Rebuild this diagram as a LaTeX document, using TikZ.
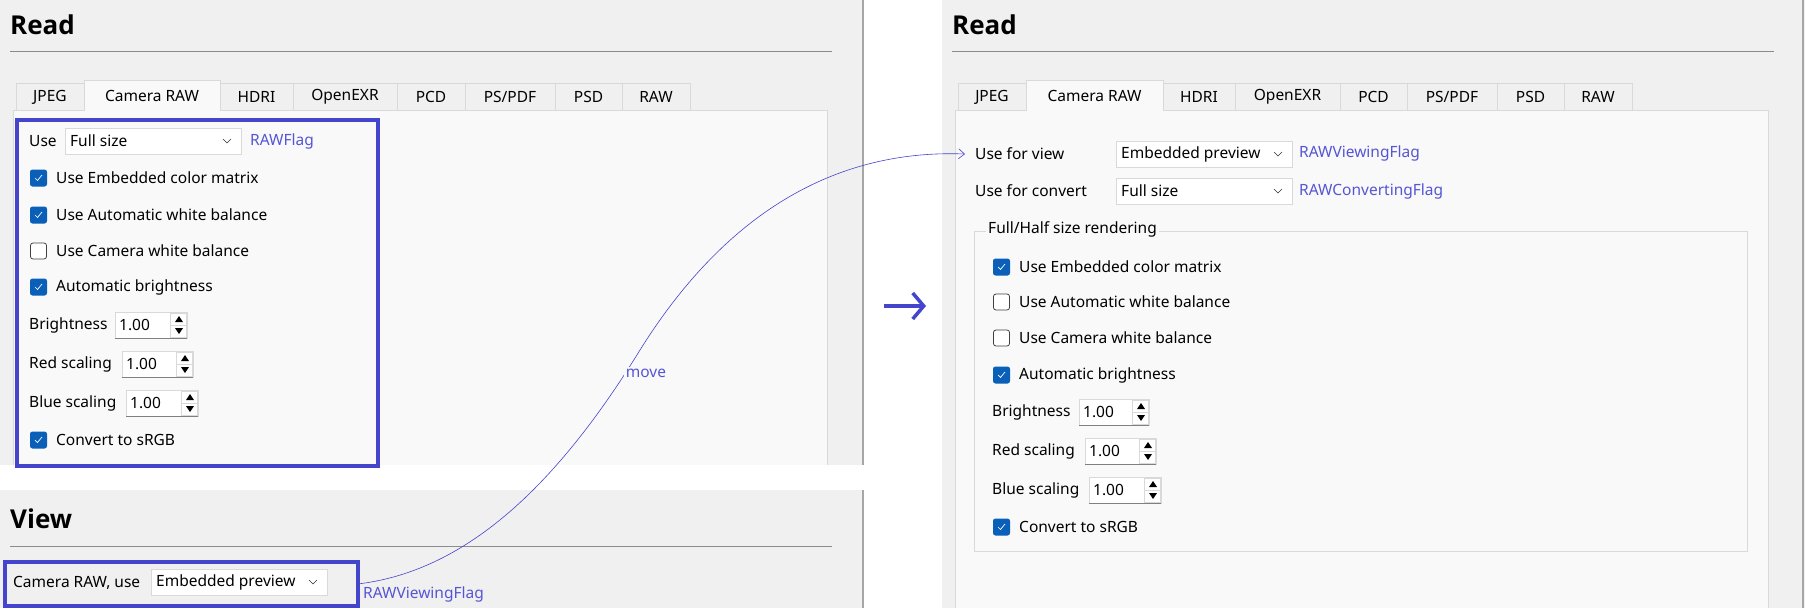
\documentclass[tikz,border=0pt]{standalone}
\usepackage{fontspec}
\setmainfont{Noto Sans}
\newfontfamily\ttlfont{Open Sans}
\usetikzlibrary{arrows.meta}
\definecolor{bgg}{HTML}{F0F0F0}
\definecolor{pane}{HTML}{F9F9F9}
\definecolor{bord}{HTML}{D9D9D9}
\definecolor{hl}{HTML}{4444CC}
\definecolor{lbl}{HTML}{5555D5}
\definecolor{chk}{HTML}{0A5FB8}
\tikzset{
 txt/.style={inner sep=0pt,anchor=west,font=\fontsize{15.5}{17}\selectfont},
 title/.style={inner sep=0pt,anchor=west,font=\ttlfont\fontsize{26}{30}\selectfont\bfseries},
 flag/.style={txt,text=lbl},
 tab/.style={draw=bord,fill=bgg},
 stab/.style={draw=bord,fill=pane},
 field/.style={draw=bord,fill=white},
 hlbox/.style={draw=hl,line width=3.5pt},
}
\newcommand\cbx[4]{% name, x, y, checked(1/0)
 \ifnum#4=1
  \node[fill=chk,rounded corners=2.5pt,minimum size=17pt,inner sep=0pt] (#1) at (#2,#3) {};
  \draw[white,line width=0.7pt] (#2-3.5,#3) -- (#2-1,#3+2.5) -- (#2+3.5,#3-3);
 \else
  \node[draw=black!75,fill=white,rounded corners=2.5pt,minimum size=16pt,inner sep=0pt,line width=0.8pt] (#1) at (#2,#3) {};
 \fi}
\newcommand\spn[5]{% name, x1, x2, ycenter, text
 \node[field,minimum width=#3-#2 pt,minimum height=26pt,inner sep=0pt,anchor=west] (#1) at (#2,#4) {};
 \draw[black!50] (#2,#4+13) -- (#3,#4+13);
 \node[txt] at (#2+4,#4) {#5};
 \fill (#3-12,#4-3) -- (#3-8,#4-9) -- (#3-4,#4-3) -- cycle;
 \fill (#3-12,#4+3) -- (#3-8,#4+9) -- (#3-4,#4+3) -- cycle;
 \draw[bord] (#3-17,#4-12) rectangle (#3-1,#4+12);
 \draw[bord] (#3-17,#4) -- (#3-1,#4);}
\newcommand\cmb[5]{% name, x1, x2, ycenter, text
 \node[field,minimum width=#3-#2 pt,minimum height=26pt,inner sep=0pt,anchor=west] (#1) at (#2,#4) {};
 \node[txt] at (#2+5,#4) {#5};
 \draw[black!80,line width=0.6pt] (#3-18,#4-2) -- (#3-14,#4+2) -- (#3-10,#4-2);}
\begin{document}
\begin{tikzpicture}[x=1pt,y=-1pt]
\useasboundingbox (0,0) rectangle (1805,608);
\fill[white] (0,0) rectangle (1805,608);
% ---------- left panel ----------
\fill[bgg] (0,0) rectangle (863,465);
\fill[bgg] (0,490) rectangle (863,608);
\draw[black!35,line width=1.2pt] (863,0) -- (863,465);
\draw[black!35,line width=1.2pt] (863,490) -- (863,608);
\node[title] (readL) at (10,25) {Read};
\draw[black!45] (10,51) -- (832,51);
\fill[pane] (13,110) rectangle (827,465);
\draw[bord] (13,465) -- (13,110) -- (827,110) -- (827,465);
\foreach \a/\b/\t [count=\i] in {16/84/JPEG,220/293/HDRI,293/397/OpenEXR,397/465/PCD,465/555/{PS/PDF},555/622/PSD,622/690/RAW}{
 \draw[tab] (\a,110) rectangle (\b,83);
 \node[txt,anchor=center] (tl\i) at ({(\a+\b)/2},97) {\t};}
\draw[stab] (84,111) -- (84,80) -- (220,80) -- (220,111);
\node[txt,anchor=center] (tlc) at (152,96) {Camera RAW};
\node[txt] (useL) at (29,141) {Use};
\cmb{cmbL}{65}{241}{141}{Full size}
\node[flag] (rawflag) at (250,141) {RAWFlag};
\cbx{c1}{38.5}{178}{1}\node[txt] at (56,178) {Use Embedded color matrix};
\cbx{c2}{38.5}{215}{1}\node[txt] at (56,215) {Use Automatic white balance};
\cbx{c3}{38.5}{251}{0}\node[txt] at (56,251) {Use Camera white balance};
\cbx{c4}{38.5}{287}{1}\node[txt] at (56,287) {Automatic brightness};
\node[txt] (bL) at (29,325) {Brightness};\spn{sb1}{115}{187}{325}{1.00}
\node[txt] (rL) at (29,364) {Red scaling};\spn{sr1}{122}{193}{364}{1.00}
\node[txt] (blL) at (29,403) {Blue scaling};\spn{sbl1}{126}{198}{403}{1.00}
\cbx{c5}{38.5}{440}{1}\node[txt] at (56,440) {Convert to sRGB};
\node[hlbox,minimum width=361pt,minimum height=346pt,inner sep=0pt,anchor=north west] (boxA) at (15,118) {};
% view
\node[title] (viewL) at (10,519) {View};
\draw[black!45] (10,546) -- (832,546);
\node[txt] (camuse) at (13,583) {Camera RAW, use};
\cmb{cmbV}{151}{327}{582}{Embedded preview}
\node[hlbox,minimum width=353pt,minimum height=44pt,inner sep=0pt,anchor=north west] (boxB) at (3,560) {};
\node[flag] (rvf) at (363,594) {RAWViewingFlag};
% ---------- right panel ----------
\fill[bgg] (942,0) rectangle (1805,608);
\draw[black!35,line width=1.2pt] (1803,0) -- (1803,608);
\node[title] (readR) at (952,25) {Read};
\draw[black!45] (952,51) -- (1774,51);
\fill[pane] (955,110) rectangle (1768,608);
\draw[bord] (955,608) -- (955,110) -- (1768,110) -- (1768,608);
\foreach \a/\b/\t [count=\i] in {958/1026/JPEG,1163/1235/HDRI,1235/1340/OpenEXR,1340/1407/PCD,1407/1497/{PS/PDF},1497/1564/PSD,1564/1632/RAW}{
 \draw[tab] (\a,110) rectangle (\b,83);
 \node[txt,anchor=center] (tr\i) at ({(\a+\b)/2},97) {\t};}
\draw[stab] (1026,111) -- (1026,80) -- (1163,80) -- (1163,111);
\node[txt,anchor=center] (trc) at (1094.5,96) {Camera RAW};
\node[txt] (ufv) at (975,154) {Use for view};
\cmb{cmbR1}{1116}{1292}{154}{Embedded preview}
\node[flag] (rvf2) at (1299,153) {RAWViewingFlag};
\node[txt] (ufc) at (975,191) {Use for convert};
\cmb{cmbR2}{1116}{1292}{191}{Full size}
\node[flag] (rcf) at (1299,191) {RAWConvertingFlag};
\draw[bord,line width=1pt] (974,231) rectangle (1747,551);
\node[txt,fill=pane,inner xsep=2pt] (grp) at (986,229) {Full/Half size rendering};
\cbx{d1}{1001.5}{267}{1}\node[txt] at (1019,267) {Use Embedded color matrix};
\cbx{d2}{1001.5}{302}{0}\node[txt] at (1019,302) {Use Automatic white balance};
\cbx{d3}{1001.5}{338}{0}\node[txt] at (1019,338) {Use Camera white balance};
\cbx{d4}{1001.5}{375}{1}\node[txt] at (1019,375) {Automatic brightness};
\node[txt] (bR) at (992,412) {Brightness};\spn{sb2}{1079}{1149}{412}{1.00}
\node[txt] (rR) at (992,451) {Red scaling};\spn{sr2}{1085}{1156}{451}{1.00}
\node[txt] (blR) at (992,490) {Blue scaling};\spn{sbl2}{1089}{1161}{490}{1.00}
\cbx{d5}{1001.5}{527}{1}\node[txt] at (1019,527) {Convert to sRGB};
% ---------- connectors ----------
\coordinate (tip) at (965,154);
\draw[hl,line width=0.6pt,-{Straight Barb[length=6pt,width=10pt]}] (boxB.east) .. controls (470,570) and (560,480) .. (640,350) .. controls (740,190) and (860,150) .. (tip);
\node[flag,anchor=center,fill=pane,inner sep=2pt] (mv) at (646,373) {move};
\coordinate (a1) at (884,306);
\coordinate (a2) at (926,306);
\draw[hl,line width=3.5pt,-{Straight Barb[length=11pt,width=26pt]}] (a1) -- (a2);
\end{tikzpicture}
\end{document}
